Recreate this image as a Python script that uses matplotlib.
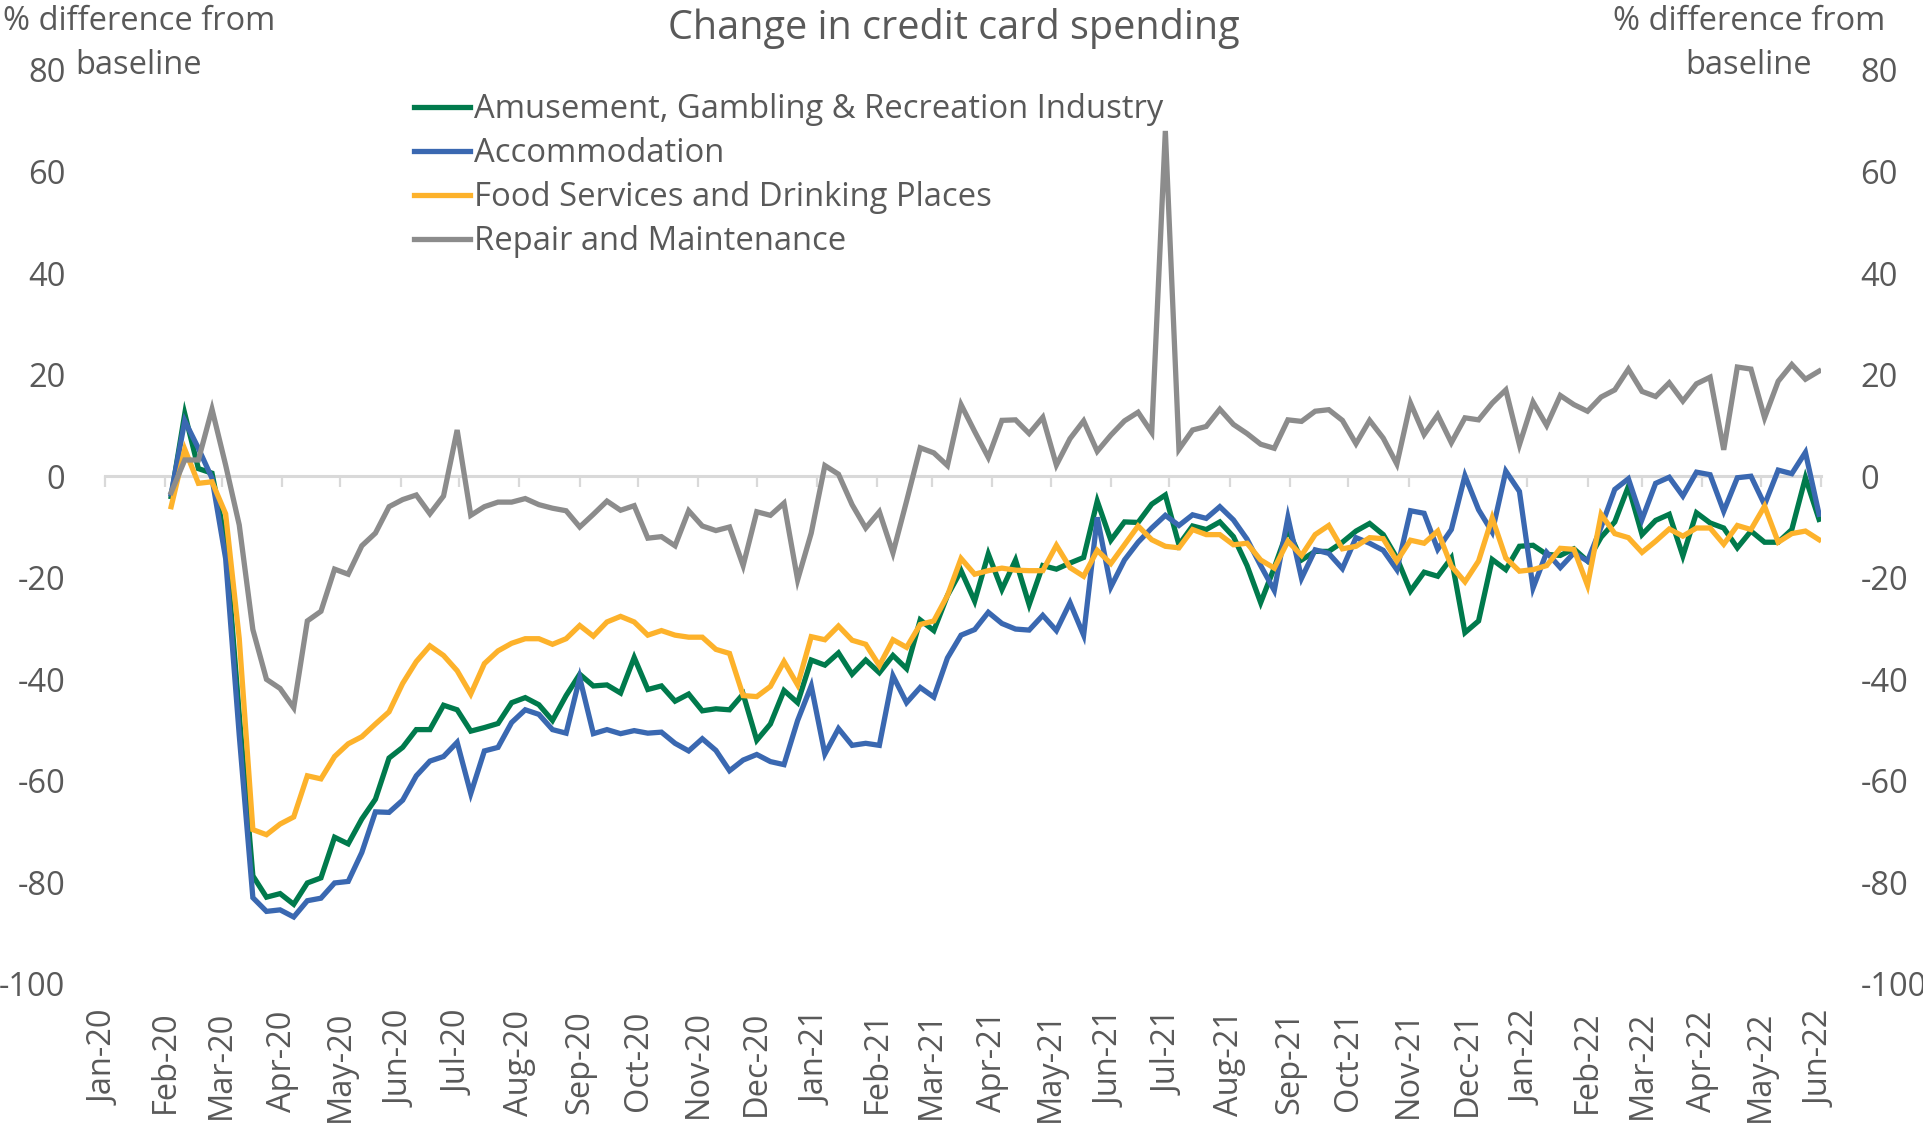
import matplotlib
matplotlib.use("Agg")
import matplotlib.pyplot as plt
import matplotlib.dates as mdates
import pandas as pd

plt.rcParams['font.family'] = ['Open Sans', 'DejaVu Sans']
plt.rcParams['axes.unicode_minus'] = False

# weekly observations, first week of Feb 2020 to end of May 2022
weeks = pd.date_range("2020-02-04", periods=122, freq="7D")

labels = [
    "Amusement, Gambling & Recreation Industry",
    "Accommodation",
    "Food Services and Drinking Places",
    "Repair and Maintenance",
]
colors = ["#007A4C", "#3A68B1", "#FDB22B", "#8C8C8C"]

# % difference from baseline
amusement = [
    -4.0, 12.3, 1.5, 0.6, -13.0, -47.0, -78.7, -82.9, -82.2, -84.3,
    -80.1, -79.1, -71.1, -72.4, -67.5, -63.6, -55.5, -53.4, -49.9, -49.9,
    -45.1, -46.0, -50.2, -49.5, -48.7, -44.6, -43.6, -45.0, -48.1, -43.2,
    -39.0, -41.3, -41.1, -42.7, -35.7, -42.0, -41.3, -44.3, -42.9, -46.2,
    -45.8, -46.0, -42.9, -52.0, -48.8, -42.2, -44.6, -36.2, -37.2, -34.8,
    -39.0, -36.2, -38.7, -35.3, -37.9, -28.3, -30.4, -23.5, -18.6, -24.6,
    -15.3, -22.3, -16.5, -25.3, -17.6, -18.3, -17.1, -16.0, -4.9, -12.6,
    -9.0, -9.1, -5.5, -3.7, -13.5, -9.8, -10.5, -9.0, -11.9, -17.6,
    -24.9, -18.0, -10.5, -16.5, -14.8, -14.8, -13.0, -10.8, -9.3, -11.5,
    -16.1, -22.6, -18.9, -19.7, -16.1, -30.8, -28.5, -16.4, -18.4, -13.8,
    -13.6, -15.4, -15.6, -14.3, -16.7, -12.0, -9.0, -2.0, -11.5, -8.7,
    -7.5, -15.7, -7.2, -9.2, -10.2, -14.1, -10.8, -13.0, -13.0, -10.5,
    -0.3, -8.5,
]
accommodation = [
    -3.5, 10.9, 5.5, -0.4, -16.2, -51.0, -83.0, -85.7, -85.4, -86.8,
    -83.6, -83.1, -80.1, -79.8, -74.1, -66.1, -66.2, -63.8, -59.0, -56.1,
    -55.2, -52.4, -62.5, -54.1, -53.4, -48.5, -46.0, -46.9, -49.9, -50.6,
    -39.7, -50.7, -49.9, -50.7, -50.1, -50.6, -50.4, -52.6, -54.1, -51.7,
    -54.0, -58.0, -55.9, -54.8, -56.2, -56.8, -48.1, -41.3, -54.7, -49.7,
    -53.0, -52.6, -53.0, -39.3, -44.6, -41.6, -43.5, -35.8, -31.3, -30.2,
    -26.8, -29.0, -30.1, -30.3, -27.4, -30.4, -24.9, -31.3, -8.1, -21.8,
    -16.5, -13.0, -10.2, -7.7, -9.7, -7.6, -8.3, -6.0, -8.6, -12.4,
    -17.6, -22.5, -8.1, -20.1, -14.5, -15.2, -18.2, -12.1, -13.2, -14.6,
    -18.4, -6.8, -7.3, -14.4, -10.5, 0.1, -6.6, -11.0, 1.0, -3.0,
    -22.0, -15.0, -18.0, -15.1, -16.7, -10.0, -2.6, -0.5, -8.5, -1.4,
    -0.2, -3.9, 0.8, 0.3, -6.9, -0.3, 0.0, -5.6, 1.2, 0.5,
    4.7, -7.5,
]
food_drink = [
    -6.0, 5.3, -1.4, -1.1, -7.4, -32.0, -69.6, -70.6, -68.5, -67.1,
    -59.0, -59.6, -55.2, -52.7, -51.3, -48.8, -46.4, -40.8, -36.5, -33.4,
    -35.3, -38.3, -42.9, -36.9, -34.4, -32.9, -32.0, -32.0, -33.1, -32.0,
    -29.4, -31.5, -28.7, -27.6, -28.7, -31.3, -30.4, -31.3, -31.7, -31.7,
    -34.1, -34.9, -43.2, -43.4, -41.4, -36.5, -41.1, -31.6, -32.2, -29.5,
    -32.3, -33.1, -37.3, -32.2, -33.7, -29.2, -28.5, -23.5, -16.2, -19.3,
    -18.6, -18.1, -18.5, -18.6, -18.6, -13.6, -18.0, -19.7, -14.6, -17.2,
    -13.5, -9.8, -12.5, -13.8, -14.1, -10.5, -11.5, -11.5, -13.5, -13.2,
    -16.5, -18.1, -12.8, -15.6, -11.5, -9.7, -14.3, -13.8, -12.1, -12.3,
    -16.7, -12.6, -13.2, -10.8, -17.7, -20.8, -16.7, -8.2, -16.1, -18.7,
    -18.4, -17.6, -14.2, -14.4, -21.5, -7.5, -11.3, -12.1, -15.0, -12.8,
    -10.4, -11.8, -10.2, -10.2, -13.4, -9.7, -10.5, -5.9, -13.0, -11.3,
    -10.8, -12.5,
]
repair = [
    -3.2, 3.2, 3.2, 13.2, 2.2, -9.6, -30.2, -40.0, -41.8, -45.6,
    -28.5, -26.6, -18.3, -19.3, -13.7, -11.2, -6.0, -4.6, -3.7, -7.4,
    -3.9, 9.1, -7.7, -6.0, -5.1, -5.1, -4.4, -5.6, -6.3, -6.8,
    -10.0, -7.5, -4.9, -6.7, -5.8, -12.2, -11.9, -13.7, -6.8, -9.8,
    -10.7, -10.0, -17.6, -7.0, -7.7, -5.3, -20.4, -11.2, 2.1, 0.4,
    -5.6, -10.2, -7.0, -15.1, -4.9, 5.6, 4.6, 2.1, 14.1, 8.8,
    3.7, 11.0, 11.1, 8.4, 11.6, 2.2, 7.4, 10.9, 4.9, 8.1,
    10.9, 12.6, 8.6, 68.0, 5.3, 9.1, 9.8, 13.2, 10.2, 8.4,
    6.3, 5.5, 11.1, 10.8, 12.8, 13.1, 11.0, 6.4, 11.0, 7.5,
    2.4, 14.4, 8.2, 12.1, 6.6, 11.5, 11.1, 14.4, 17.0, 6.2,
    14.6, 10.0, 15.9, 14.1, 12.8, 15.6, 17.0, 21.1, 16.7, 15.7,
    18.4, 14.8, 18.2, 19.5, 5.2, 21.5, 21.1, 11.5, 18.7, 22.0,
    19.1, 20.7,
]
series = [amusement, accommodation, food_drink, repair]

text_color = "#595959"
grid_color = "#D9D9D9"
fs = 23.5

fig = plt.figure(figsize=(19.23, 11.26), dpi=100)
ax = fig.add_axes([105 / 1923, 1 - 984 / 1126, 1716 / 1923, 914 / 1126])

for vals, lab, col in zip(series, labels, colors):
    ax.plot(weeks, vals, color=col, lw=3.8, label=lab, zorder=3,
            solid_joinstyle="miter")

ax.set_xlim(pd.Timestamp("2020-01-01"), pd.Timestamp("2022-06-01"))
ax.set_ylim(-100, 80)
ax.set_yticks(range(-100, 81, 20))

# horizontal axis sits on the zero line, ticks hanging below it
for s in ["top", "left", "right"]:
    ax.spines[s].set_visible(False)
ax.spines["bottom"].set_position(("data", 0))
ax.spines["bottom"].set_color(grid_color)
ax.spines["bottom"].set_linewidth(2.2)
ax.spines["bottom"].set_zorder(1)
ax.xaxis.set_major_locator(mdates.MonthLocator())
ax.tick_params(axis="x", direction="out", length=8, width=1.6,
               color=grid_color, labelbottom=False)
ax.tick_params(axis="y", left=False, right=False, labelleft=True,
               labelright=True, labelsize=fs, labelcolor=text_color, pad=25)

# month labels at the bottom of the plot area
sec = ax.secondary_xaxis(0.0)
sec.xaxis.set_major_locator(mdates.MonthLocator())
sec.xaxis.set_major_formatter(mdates.DateFormatter("%b-%y"))
sec.spines["bottom"].set_visible(False)
sec.tick_params(axis="x", length=0, pad=19, labelrotation=90,
                labelsize=fs, labelcolor=text_color)

fig.text(954 / 1923, 1 - 28.5 / 1126, "Change in credit card spending",
         ha="center", va="center", fontsize=28.5, color=text_color)

# axis titles, one line each so they sit beside the top tick labels
for xc in (139 / 1923, 1749 / 1923):
    fig.text(xc, 1 - 21 / 1126, "% difference from", ha="center",
             va="center", fontsize=fs, color=text_color)
    fig.text(xc, 1 - 65 / 1126, "baseline", ha="center",
             va="center", fontsize=fs, color=text_color)

leg = ax.legend(loc="upper left", bbox_to_anchor=(414 / 1923, 1 - 93 / 1126),
                bbox_transform=fig.transFigure, frameon=False, fontsize=23.6,
                handlelength=1.72, handletextpad=0.12, labelspacing=0.34,
                borderpad=0, borderaxespad=0)
for t in leg.get_texts():
    t.set_color(text_color)

fig.savefig("out.png", dpi=100)
